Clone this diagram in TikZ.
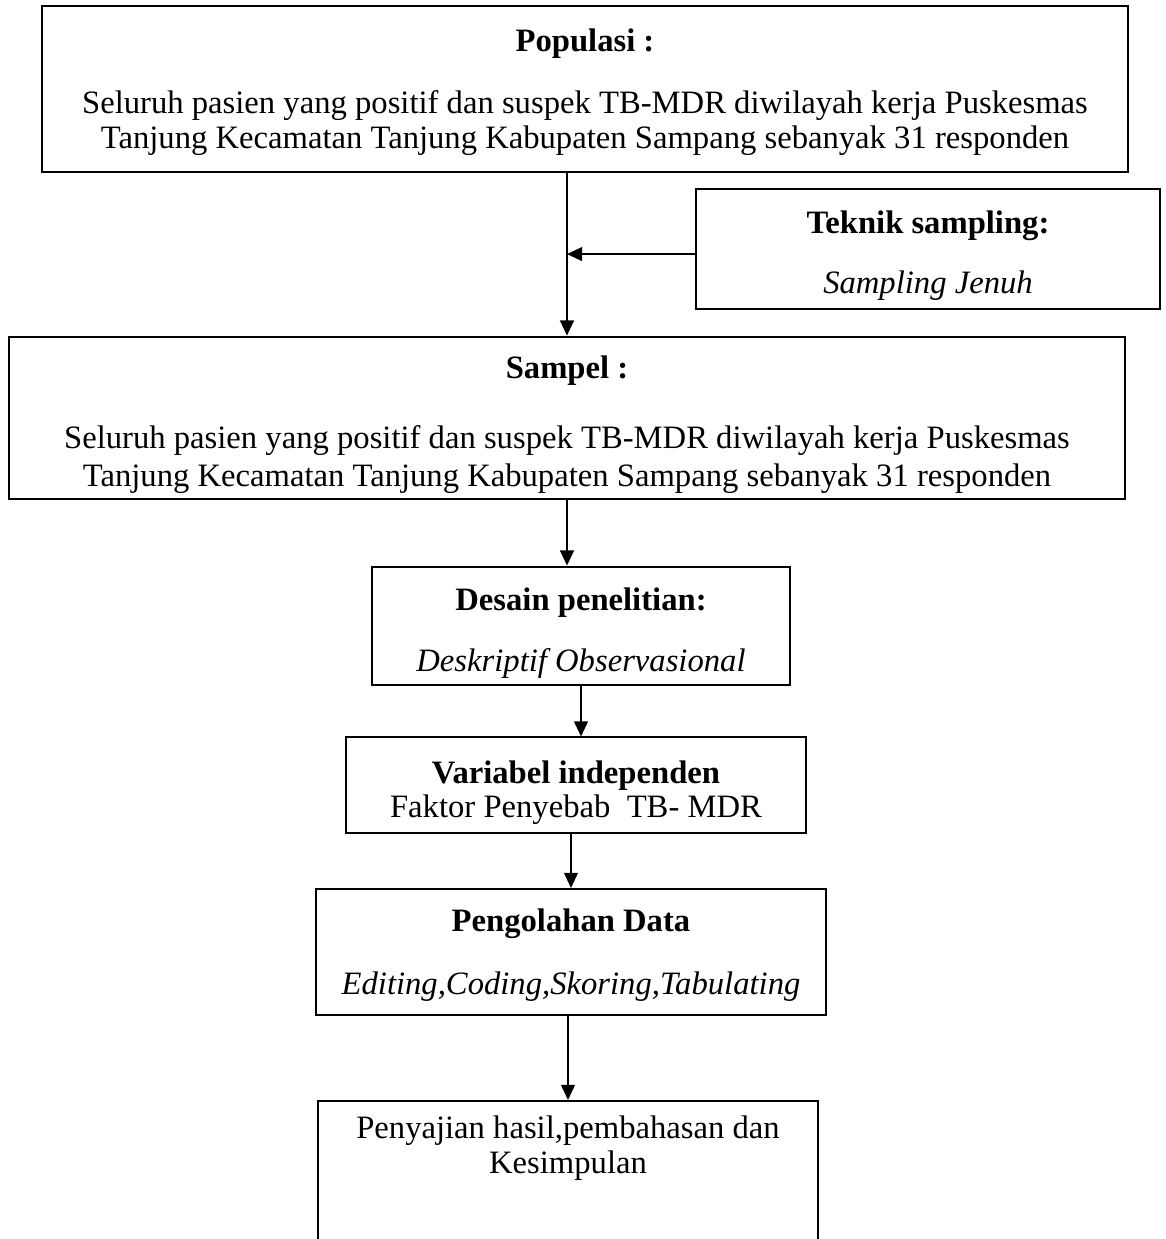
\documentclass[tikz,border=0pt]{standalone}
\usepackage{fontspec}
\setmainfont{Liberation Serif}
\usepackage{tikz}
\usetikzlibrary{arrows.meta}
\tikzset{box/.style={draw, line width=0.8pt, align=center, inner sep=0pt,
        font=\fontsize{12.9}{13.8}\selectfont},
    arr/.style={line width=0.6pt, -{Triangle[length=6pt,width=5.5pt]}}}
\newcommand{\topgap}[1]{\rule{0pt}{#1}}

\begin{document}
\begin{tikzpicture}[x=0.01389cm, y=-0.01389cm]
    \useasboundingbox (0,0) rectangle (1166,1239);
    \node[box, minimum width=15.08cm, minimum height=2.31cm] (pop) at (585,89)
        {\topgap{11.5pt}\textbf{Populasi :}\\[11pt]
        Seluruh pasien yang positif dan suspek TB-MDR diwilayah kerja Puskesmas\\
        Tanjung Kecamatan Tanjung Kabupaten Sampang sebanyak 31 responden};
    \node[box, minimum width=6.43cm, minimum height=1.67cm] (tek) at (928,249)
        {\topgap{14pt}\textbf{Teknik sampling:}\\[10pt] \textit{Sampling Jenuh}};
    \node[box, minimum width=15.49cm, minimum height=2.26cm] (sam) at (567,418)
        {\topgap{14pt}\textbf{Sampel :}\\[14pt]
        Seluruh pasien yang positif dan suspek TB-MDR diwilayah kerja Puskesmas\\[1pt]
        Tanjung Kecamatan Tanjung Kabupaten Sampang sebanyak 31 responden};
    \node[box, minimum width=5.81cm, minimum height=1.65cm] (des) at (581,626)
        {\topgap{14.5pt}\textbf{Desain penelitian:}\\[10pt] \textit{Deskriptif Observasional}};
    \node[box, minimum width=6.39cm, minimum height=1.32cm] (var) at (576,785)
        {\topgap{15pt}\textbf{Variabel independen}\\ Faktor Penyebab\ \ TB- MDR};
    \node[box, minimum width=7.07cm, minimum height=1.75cm] (olah) at (571,952)
        {\topgap{11.5pt}\textbf{Pengolahan Data}\\[11pt] \textit{Editing,Coding,Skoring,Tabulating}};
    \node[box, minimum width=6.95cm, anchor=north, inner ysep=6pt, text depth=3cm] (hasil) at (568,1100)
        {Penyajian hasil,pembahasan dan\\ Kesimpulan};

    \draw[arr] (pop.south -| sam.north) -- (sam.north);
    \draw[arr] ([yshift=-2pt]tek.west) -- ([yshift=-2pt]tek.west -| sam.north);
    \draw[arr] (sam.south) -- (sam.south |- des.north);
    \draw[arr] (des.south) -- (des.south |- var.north);
    \draw[arr] (var.south -| olah.north) -- (olah.north);
    \draw[arr] (olah.south -| hasil.north) -- (hasil.north);
\end{tikzpicture}
\end{document}
